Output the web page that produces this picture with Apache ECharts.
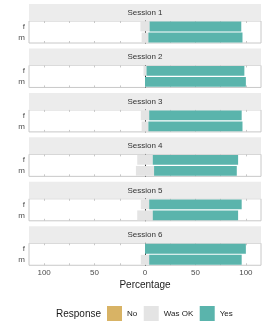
<!DOCTYPE html>
<html><head><meta charset="utf-8">
<script src="https://cdn.jsdelivr.net/npm/echarts@6/dist/echarts.min.js"></script>
<style>html,body{margin:0;padding:0;background:#fff}#c{width:266px;height:332px}</style>
</head><body><div id="c"></div>
<script>
const sessions = ['Session 1','Session 2','Session 3','Session 4','Session 5','Session 6'];
const genders = ['m','f'];
const noF  = [0, 0, 0, 0, 0, 0];
const okF  = [9.1, 3.0, 8.3, 15.4, 8.3, 0];
const yesF = [90.9, 97.0, 91.7, 84.6, 91.7, 100];
const noM  = [0, 0, 0, 0, 0, 0];
const okM  = [6.7, 0, 6.7, 18.0, 15.4, 8.3];
const yesM = [93.3, 100, 93.3, 82.0, 84.6, 91.7];
const tickValues = [-100,-75,-50,-25,0,25,50,75,100];
const labelValues = [-100,-50,0,50,100];
const responses = ['No','Was OK','Yes'];
const colors = {'No':'#d8b365','Was OK':'#e4e4e4','Yes':'#5ab4ac'};

const FONT = 'Liberation Sans, Arial, sans-serif';
const chart = echarts.init(document.getElementById('c'), null, {renderer:'canvas'});
const P0 = 21, PERIOD = 44.45, PH = 22, STRIP = 17, L = 29, W = 232;
const grids = [], xAxes = [], yAxes = [], series = [], graphics = [];
sessions.forEach((s, i) => {
  const top = P0 + i * PERIOD;
  grids.push({left: L, top: top, width: W, height: PH, show: true, borderColor: '#c8c8c8', borderWidth: 1, backgroundColor: '#fff'});
  const last = i === sessions.length - 1;
  const base = {type:'value', min:-115, max:115, gridIndex:i, splitLine:{show:false}, axisLine:{show:false}};
  xAxes.push(Object.assign({}, base, {
    position:'bottom',
    axisTick:{show:true, inside:true, length:2, customValues:tickValues, lineStyle:{color:'#c8c8c8'}},
    axisLabel:{show:last, customValues:labelValues, formatter:v=>String(Math.abs(v)), fontSize:8, color:'#4d4d4d', fontFamily:FONT, margin:4},
    name: last ? 'Percentage' : '', nameLocation:'middle', nameGap:15,
    nameTextStyle:{fontSize:10, color:'#1a1a1a', fontFamily:FONT}
  }));
  xAxes.push(Object.assign({}, base, {
    position:'top',
    axisTick:{show:true, inside:true, length:2, customValues:tickValues, lineStyle:{color:'#c8c8c8'}},
    axisLabel:{show:false}
  }));
  // label axis at the left edge
  yAxes.push({type:'category', gridIndex:i, data:genders, position:'left',
    axisLine:{show:false, onZero:false}, axisTick:{show:false},
    axisLabel:{fontSize:8, color:'#4d4d4d', fontFamily:FONT, margin:4}});
  // zero reference line (axis line sitting on x = 0, under the bars)
  yAxes.push({type:'category', gridIndex:i, data:genders,
    axisLine:{show:true, onZero:true, onZeroAxisIndex:i*2, lineStyle:{color:'#333', width:1}},
    axisTick:{show:false}, axisLabel:{show:false}});
  const xi = i*2, yi = i*2;
  const ok = [okM[i], okF[i]], no = [noM[i], noF[i]], yes = [yesM[i], yesF[i]];
  const mk = (name, data) => ({type:'bar', name, xAxisIndex:xi, yAxisIndex:yi, stack:'s'+i, data,
    barCategoryGap:'11%', z:3, silent:true, animation:false, itemStyle:{color:colors[name]}});
  series.push(mk('Was OK', ok.map(v=>-v/2)));
  series.push(mk('No', no.map(v=>-v)));
  series.push(mk('Was OK', ok.map(v=>v/2)));
  series.push(mk('Yes', yes));
  graphics.push({type:'rect', shape:{x:L, y:top-STRIP, width:W, height:STRIP}, style:{fill:'#ececec'}, silent:true});
  graphics.push({type:'text', x:L+W/2, y:top-STRIP/2, style:{text:s, fontSize:8, fill:'#333', fontFamily:FONT, align:'center', verticalAlign:'middle'}, silent:true});
});
graphics.push({type:'text', x:56, y:314, style:{text:'Response', fontSize:10, fill:'#1a1a1a', fontFamily:FONT, verticalAlign:'middle'}});

chart.setOption({
  animation:false,
  backgroundColor:'#fff',
  grid:grids, xAxis:xAxes, yAxis:yAxes, series,
  graphic:graphics,
  legend:{data:responses, left:107, top:306, padding:0, icon:'rect', itemWidth:15, itemHeight:15, itemGap:6.5,
    selectedMode:false, textStyle:{fontSize:8, color:'#1a1a1a', fontFamily:FONT}}
});
</script></body></html>
